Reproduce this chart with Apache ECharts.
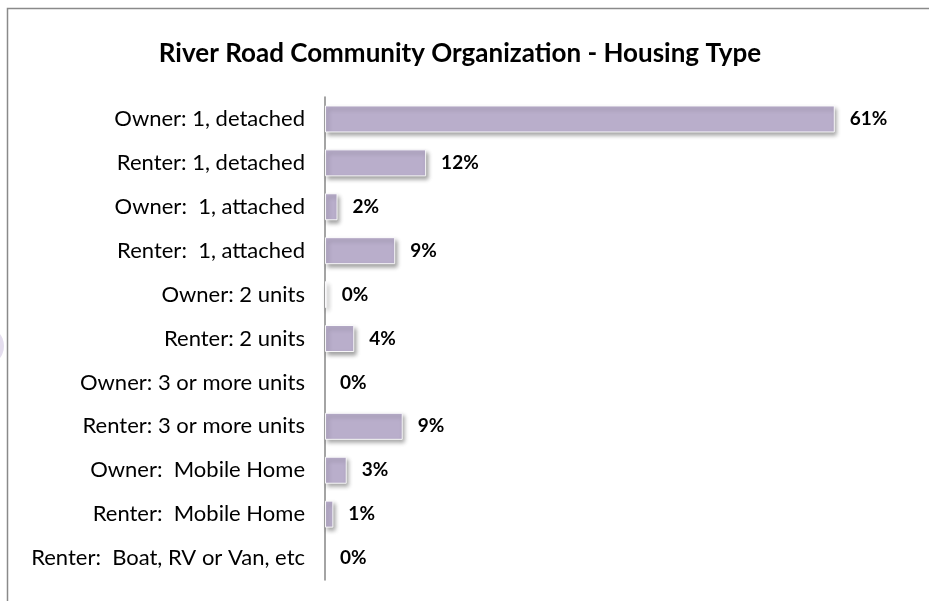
<!DOCTYPE html>
<html>
<head>
<meta charset="utf-8">
<script src="https://cdn.jsdelivr.net/npm/echarts@6/dist/echarts.min.js"></script>
<style>
  html, body { margin: 0; padding: 0; background: #fff; overflow: hidden; }
  #chart { width: 929px; height: 601px; }
</style>
</head>
<body>
<div id="chart"></div>
<script>
// 类别与数值
var categories = [
    'Owner: 1, detached',
    'Renter: 1, detached',
    'Owner:  1, attached',
    'Renter:  1, attached',
    'Owner: 2 units',
    'Renter: 2 units',
    'Owner: 3 or more units',
    'Renter: 3 or more units',
    'Owner:  Mobile Home',
    'Renter:  Mobile Home',
    'Renter:  Boat, RV or Van, etc'
];
var values = [61, 12.1, 1.5, 8.4, 0.2, 3.5, 0, 9.3, 2.6, 1.0, 0];
var valueLabels = ['61%', '12%', '2%', '9%', '0%', '4%', '0%', '9%', '3%', '1%', '0%'];

// 数值为0的条不画阴影
var barData = values.map(function (v) {
    if (v === 0) {
        return {value: v, itemStyle: {shadowColor: 'rgba(0,0,0,0)', borderWidth: 0}};
    }
    return v;
});

var chart = echarts.init(document.getElementById('chart'));

var option = {
    backgroundColor: '#fff',
    animation: false,
    title: {
        text: 'River Road Community Organization - Housing Type',
        left: 455,
        top: 36,
        textAlign: 'center',
        textStyle: {
            fontFamily: 'Lato',
            fontSize: 26,
            fontWeight: 'bold',
            color: '#000'
        }
    },
    graphic: [
        {
            type: 'rect',
            shape: {x: 7.5, y: 8.5, width: 2000, height: 2000},
            style: {fill: null, stroke: '#8a8a8a', lineWidth: 1.5},
            silent: true
        },
        {
            type: 'circle',
            shape: {cx: -16, cy: 346, r: 20},
            style: {fill: '#e4ddee'},
            silent: true
        }
    ],
    grid: {
        left: 325,
        right: 19,
        top: 97,
        bottom: 21,
        containLabel: false
    },
    xAxis: {
        type: 'value',
        min: 0,
        max: 70,
        show: false
    },
    yAxis: {
        type: 'category',
        inverse: true,
        data: categories,
        axisLine: {lineStyle: {color: '#868686', width: 1.5}},
        axisTick: {show: false},
        axisLabel: {
            margin: 20,
            color: '#000',
            fontFamily: 'Lato',
            fontSize: 22
        }
    },
    series: [{
        type: 'bar',
        data: barData,
        barWidth: 27,
        itemStyle: {
            color: '#b9aecb',
            borderColor: 'rgba(255,255,255,0.9)',
            borderWidth: 1,
            shadowColor: 'rgba(0,0,0,0.35)',
            shadowBlur: 4,
            shadowOffsetX: 2,
            shadowOffsetY: 3
        },
        label: {
            show: true,
            position: 'right',
            distance: 15,
            color: '#000',
            fontFamily: 'Lato',
            fontWeight: 'bold',
            fontSize: 19,
            formatter: function (p) { return valueLabels[p.dataIndex]; }
        }
    }]
};

chart.setOption(option);
</script>
</body>
</html>
